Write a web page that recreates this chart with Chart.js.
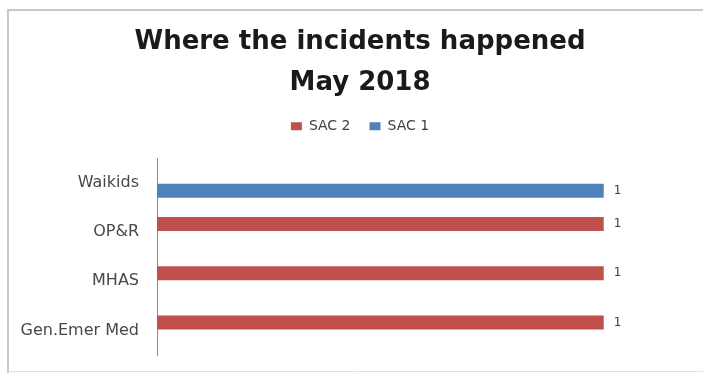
<!DOCTYPE html>
<html>
<head>
<meta charset="utf-8">
<script src="https://cdn.jsdelivr.net/npm/chart.js@4/dist/chart.umd.min.js"></script>
<style>
  html, body { margin: 0; padding: 0; background: #fff; }
  #wrap { width: 703px; height: 373px; }
</style>
</head>
<body>
<div id="wrap"><canvas id="incidentChart" width="703" height="373"></canvas></div>
<script>
// where the incidents happened, by area and SAC rating
var areas = ["Waikids", "OP&R", "MHAS", "Gen.Emer Med"];
var sac2Counts = [null, 1, 1, 1];
var sac1Counts = [1, null, null, null];
var titleLines = ["Where the incidents happened", "May 2018"];

var FONT = "'DejaVu Sans', Verdana, sans-serif";

// grey frame round the chart (left, top, bottom)
var framePlugin = {
	id: "frame",
	beforeDraw: function(chart) {
		var ctx = chart.ctx;
		ctx.save();
		ctx.fillStyle = "#ffffff";
		ctx.fillRect(0, 0, chart.width, chart.height);
		ctx.strokeStyle = "#c8c8c8";
		ctx.lineWidth = 2;
		ctx.beginPath();
		ctx.moveTo(703, 10);
		ctx.lineTo(8, 10);
		ctx.lineTo(8, 373);
		ctx.stroke();
		ctx.strokeStyle = "#e2e2e2";
		ctx.lineWidth = 1;
		ctx.beginPath();
		ctx.moveTo(8, 371.5);
		ctx.lineTo(703, 371.5);
		ctx.stroke();
		ctx.restore();
	}
};

// value written just past the end of each bar
var valueLabels = {
	id: "valueLabels",
	afterDatasetsDraw: function(chart) {
		var ctx = chart.ctx;
		ctx.save();
		ctx.font = "12px " + FONT;
		ctx.fillStyle = "#404040";
		ctx.textAlign = "left";
		ctx.textBaseline = "middle";
		chart.data.datasets.forEach(function(ds, i) {
			var meta = chart.getDatasetMeta(i);
			meta.data.forEach(function(bar, j) {
				if (ds.data[j] == null) return;
				ctx.fillText(String(ds.data[j]), bar.x + 10, bar.y);
			});
		});
		ctx.restore();
	}
};

// a bit more room under the legend
var legendGap = {
	id: "legendGap",
	beforeInit: function(chart) {
		var origFit = chart.legend.fit;
		chart.legend.fit = function() {
			origFit.bind(chart.legend)();
			this.height += 15;
		};
	}
};

var ctx = document.getElementById("incidentChart");

var myBarChart = new Chart(ctx, {
	type: "bar",
	data: {
		labels: areas,
		datasets: [{
			label: "SAC 2",
			data: sac2Counts,
			backgroundColor: "#c0504d",
			borderWidth: 0
		}, {
			label: "SAC 1",
			data: sac1Counts,
			backgroundColor: "#4f81bd",
			borderWidth: 0
		}]
	},
	options: {
		indexAxis: "y",
		responsive: false,
		animation: false,
		categoryPercentage: 0.65,
		barPercentage: 0.875,
		layout: { padding: { left: 18, right: 1, top: 10, bottom: 18 } },
		plugins: {
			tooltip: { enabled: false },
			title: {
				display: true,
				text: titleLines,
				color: "#1a1a1a",
				font: { family: FONT, size: 26, weight: "bold", lineHeight: 1.6 },
				padding: { top: 11, bottom: -4 }
			},
			legend: {
				display: true,
				position: "top",
				labels: {
					color: "#404040",
					font: { family: FONT, size: 14 },
					boxWidth: 11,
					boxHeight: 8,
					padding: 19
				}
			}
		},
		scales: {
			x: {
				display: false,
				min: 0,
				max: 1.22
			},
			y: {
				// fixed label column, no extra room above/below the categories
				afterFit: function(scale) {
					scale.width = 139;
					scale.paddingTop = 0;
					scale.paddingBottom = 0;
				},
				grid: { display: false, drawTicks: false },
				border: { display: true, color: "#8c8c8c", width: 1 },
				ticks: {
					color: "#474747",
					padding: 18,
					font: { family: FONT, size: 16 }
				}
			}
		}
	},
	plugins: [framePlugin, valueLabels, legendGap]
});
</script>
</body>
</html>
